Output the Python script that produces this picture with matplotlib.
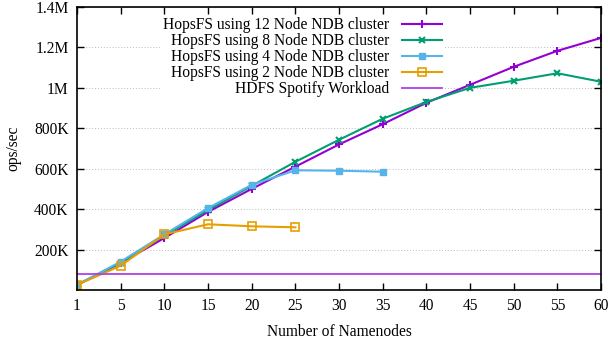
import matplotlib
matplotlib.use('Agg')
import matplotlib.pyplot as plt
from matplotlib.ticker import FuncFormatter

plt.rcParams['font.family'] = ['Liberation Serif', 'DejaVu Serif']
plt.rcParams['font.size'] = 11.2

namenodes = ['1', '5', '10', '15', '20', '25', '30', '35', '40', '45', '50', '55', '60']

node12 = [25e3, 133e3, 257e3, 386e3, 500e3, 610e3, 720e3, 820e3, 926e3, 1015e3, 1104e3, 1183e3, 1247e3]
node8 = [25e3, 135e3, 270e3, 395e3, 515e3, 634e3, 743e3, 847e3, 930e3, 1000e3, 1035e3, 1072e3, 1030e3]
node4 = [25e3, 140e3, 275e3, 405e3, 520e3, 592e3, 590e3, 585e3]
node2 = [25e3, 120e3, 275e3, 325e3, 315e3, 310e3]
hdfs_spotify = 79e3

x = list(range(len(namenodes)))

fig = plt.figure(figsize=(6.08, 3.41), dpi=100)
ax = fig.add_axes([0.1266, 0.1496, 0.862, 0.83])

ax.plot(x, node12, color='#9400d3', lw=1.5, marker='+', ms=6, mew=1.5,
        label='HopsFS using 12 Node NDB cluster')
ax.plot(x[:len(node8)], node8, color='#009e73', lw=1.5, marker='x', ms=5, mew=1.5,
        label='HopsFS using 8 Node NDB cluster')
ax.plot(x[:len(node4)], node4, color='#56b4e9', lw=1.5, marker='s', ms=5,
        label='HopsFS using 4 Node NDB cluster')
ax.plot(x[:len(node2)], node2, color='#e69f00', lw=1.5, marker='s', ms=6, mfc='none', mew=1.2,
        label='HopsFS using 2 Node NDB cluster')
ax.axhline(hdfs_spotify, color='#b040e8', lw=1.3, label='HDFS Spotify Workload')

ax.set_xlim(0, len(namenodes) - 1)
ax.set_ylim(0, 1.4e6)
ax.set_xticks(x)
ax.set_xticklabels(namenodes)
ax.set_yticks([200e3, 400e3, 600e3, 800e3, 1e6, 1.2e6, 1.4e6])


def fmt(v, pos):
    if v >= 1e6:
        return '%gM' % (v / 1e6)
    return '%dK' % round(v / 1e3)


ax.yaxis.set_major_formatter(FuncFormatter(fmt))
ax.tick_params(direction='in', top=True, right=True, length=5, width=1, pad=6)
ax.grid(axis='y', color='#bbbbbb', ls=(0, (1, 2)), lw=0.7)
ax.set_axisbelow(True)
for s in ax.spines.values():
    s.set_linewidth(1.2)

ax.set_xlabel('Number of Namenodes', labelpad=7)
ax.set_ylabel('ops/sec', labelpad=9)

leg = ax.legend(loc='upper right', bbox_to_anchor=(0.716, 1.0), markerfirst=False,
                frameon=True, fancybox=False, edgecolor='none', framealpha=1,
                handlelength=2.6, borderpad=0.15, labelspacing=0.0, handletextpad=0.8)
leg.set_zorder(1)

fig.savefig('out.png', dpi=100)
